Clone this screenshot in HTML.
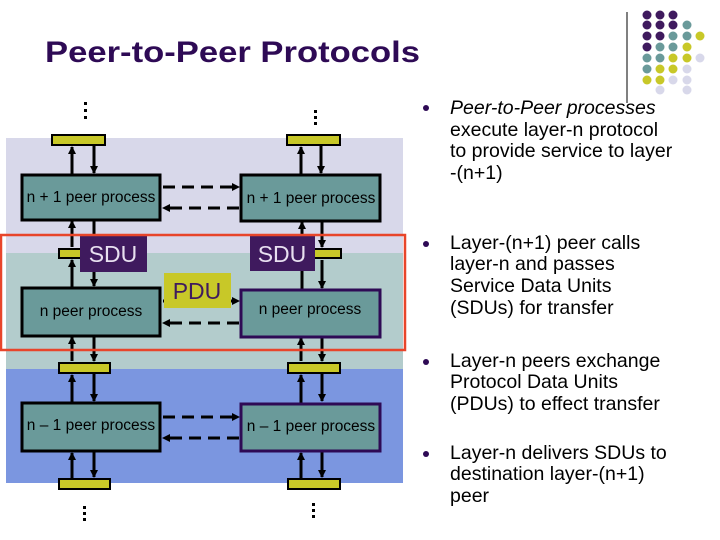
<!DOCTYPE html>
<html><head><meta charset="utf-8"><style>
html,body{margin:0;padding:0;background:#fff;}
svg{display:block;font-family:"Liberation Sans",Arial,sans-serif;}
</style></head><body>
<svg width="720" height="540" viewBox="0 0 720 540" xmlns="http://www.w3.org/2000/svg">
<defs>
<marker id="ah" markerWidth="8" markerHeight="8" refX="7" refY="4" orient="auto" markerUnits="userSpaceOnUse">
<path d="M0,0 L8,4 L0,8 Z" fill="#000"/></marker>
</defs>
<text x="45" y="62" font-size="30" font-weight="bold" fill="#2e0a55" textLength="375" lengthAdjust="spacingAndGlyphs">Peer-to-Peer Protocols</text>
<line x1="627" y1="12" x2="627" y2="103" stroke="#000" stroke-width="1"/>
<g>
<circle cx="647" cy="15" r="4.5" fill="#3f1a5e"/><circle cx="660" cy="15" r="4.5" fill="#3f1a5e"/><circle cx="673" cy="15" r="4.5" fill="#3f1a5e"/>
<circle cx="647" cy="25" r="4.5" fill="#3f1a5e"/><circle cx="660" cy="25" r="4.5" fill="#3f1a5e"/><circle cx="673" cy="25" r="4.5" fill="#3f1a5e"/><circle cx="687" cy="25" r="4.5" fill="#6a9a9a"/>
<circle cx="647" cy="36" r="4.5" fill="#3f1a5e"/><circle cx="660" cy="36" r="4.5" fill="#3f1a5e"/><circle cx="673" cy="36" r="4.5" fill="#6a9a9a"/><circle cx="687" cy="36" r="4.5" fill="#6a9a9a"/><circle cx="700" cy="36" r="4.5" fill="#c8c828"/>
<circle cx="647" cy="47" r="4.5" fill="#3f1a5e"/><circle cx="660" cy="47" r="4.5" fill="#6a9a9a"/><circle cx="673" cy="47" r="4.5" fill="#6a9a9a"/><circle cx="687" cy="47" r="4.5" fill="#c8c828"/>
<circle cx="647" cy="58" r="4.5" fill="#6a9a9a"/><circle cx="660" cy="58" r="4.5" fill="#6a9a9a"/><circle cx="673" cy="58" r="4.5" fill="#c8c828"/><circle cx="687" cy="58" r="4.5" fill="#c8c828"/><circle cx="700" cy="58" r="4.5" fill="#d8d8ea"/>
<circle cx="647" cy="69" r="4.5" fill="#6a9a9a"/><circle cx="660" cy="69" r="4.5" fill="#c8c828"/><circle cx="673" cy="69" r="4.5" fill="#c8c828"/><circle cx="687" cy="69" r="4.5" fill="#d8d8ea"/>
<circle cx="647" cy="80" r="4.5" fill="#c8c828"/><circle cx="660" cy="80" r="4.5" fill="#c8c828"/><circle cx="673" cy="80" r="4.5" fill="#d8d8ea"/><circle cx="687" cy="80" r="4.5" fill="#d8d8ea"/>
<circle cx="660" cy="90" r="4.5" fill="#d8d8ea"/><circle cx="687" cy="90" r="4.5" fill="#d8d8ea"/>
</g>
<rect x="6" y="138" width="397" height="115" fill="#d8d8ea"/>
<rect x="6" y="253" width="397" height="116" fill="#b3cccc"/>
<rect x="6" y="369" width="397" height="114" fill="#7b96e0"/>
<g fill="#000">
<rect x="84" y="102" width="3" height="3"/><rect x="84" y="109" width="3" height="3"/><rect x="84" y="116" width="3" height="3"/>
<rect x="314" y="110" width="3" height="3"/><rect x="314" y="116" width="3" height="3"/><rect x="314" y="122" width="3" height="3"/>
<rect x="83" y="506" width="3" height="3"/><rect x="83" y="512" width="3" height="3"/><rect x="83" y="518" width="3" height="3"/>
<rect x="312" y="503" width="3" height="3"/><rect x="312" y="509" width="3" height="3"/><rect x="312" y="515" width="3" height="3"/>
</g>
<g stroke="#000" stroke-width="3" marker-end="url(#ah)">
<line x1="72" y1="175" x2="72" y2="147"/><line x1="94" y1="145" x2="94" y2="173"/>
<line x1="301" y1="175" x2="301" y2="147"/><line x1="321" y1="145" x2="321" y2="173"/>
<line x1="72" y1="247" x2="72" y2="221"/><line x1="94" y1="221" x2="94" y2="247"/>
<line x1="72" y1="288" x2="72" y2="260"/><line x1="94" y1="260" x2="94" y2="286"/>
<line x1="302" y1="247" x2="302" y2="222"/><line x1="322" y1="222" x2="322" y2="247"/>
<line x1="302" y1="290" x2="302" y2="260"/><line x1="322" y1="260" x2="322" y2="288"/>
<line x1="72" y1="361" x2="72" y2="337"/><line x1="94" y1="337" x2="94" y2="361"/>
<line x1="301" y1="361" x2="301" y2="338"/><line x1="322" y1="338" x2="322" y2="361"/>
<line x1="72" y1="403" x2="72" y2="375"/><line x1="94" y1="373" x2="94" y2="401"/>
<line x1="301" y1="403" x2="301" y2="375"/><line x1="322" y1="373" x2="322" y2="401"/>
<line x1="72" y1="479" x2="72" y2="453"/><line x1="94" y1="451" x2="94" y2="477"/>
<line x1="301" y1="479" x2="301" y2="453"/><line x1="322" y1="452" x2="322" y2="477"/>
</g>
<g stroke="#000" stroke-width="3" stroke-dasharray="12,7" marker-end="url(#ah)">
<line x1="163" y1="187" x2="239" y2="187"/><line x1="239" y1="208" x2="163" y2="208"/>
<line x1="163" y1="301" x2="239" y2="301"/><line x1="239" y1="323" x2="163" y2="323"/>
<line x1="163" y1="417" x2="239" y2="417"/><line x1="239" y1="438" x2="163" y2="438"/>
</g>
<g fill="#c8c828" stroke="#000" stroke-width="2">
<rect x="52" y="135" width="53" height="10"/><rect x="287" y="135" width="53" height="10"/>
<rect x="59" y="249" width="24" height="9"/><rect x="313" y="249" width="28" height="9"/>
<rect x="59" y="363" width="51" height="10"/><rect x="288" y="363" width="52" height="10"/>
<rect x="59" y="479" width="51" height="10"/><rect x="288" y="479" width="52" height="10"/>
</g>
<g fill="#6a9a9a" stroke-width="3">
<rect x="22" y="175" width="138" height="45" stroke="#000"/>
<rect x="241" y="175" width="139" height="46" stroke="#000"/>
<rect x="22" y="288" width="138" height="48" stroke="#000"/>
<rect x="241" y="290" width="139" height="47" stroke="#2e0a55"/>
<rect x="22" y="403" width="138" height="48" stroke="#000"/>
<rect x="241" y="404" width="139" height="47" stroke="#2e0a55"/>
</g>
<g font-size="15.5" fill="#000" text-anchor="middle">
<text x="91" y="202">n + 1 peer process</text>
<text x="311" y="203">n + 1 peer process</text>
<text x="91" y="316">n peer process</text>
<text x="310" y="314">n peer process</text>
<text x="91" y="430">n – 1 peer process</text>
<text x="311" y="431">n – 1 peer process</text>
</g>
<rect x="80" y="236" width="67" height="36" fill="#3f1a5e"/>
<rect x="250" y="236" width="65" height="35" fill="#3f1a5e"/>
<text x="113" y="262" font-size="23" fill="#e8e0f0" text-anchor="middle">SDU</text>
<text x="282" y="262" font-size="23" fill="#e8e0f0" text-anchor="middle">SDU</text>
<rect x="164" y="273" width="67" height="35" fill="#c8c828"/>
<text x="197" y="299" font-size="23" fill="#3f1a5e" text-anchor="middle">PDU</text>
<rect x="1" y="235" width="404" height="115" fill="none" stroke="#e8452a" stroke-width="2.5"/>
<g fill="#2e0a55">
<circle cx="426" cy="108" r="3"/><circle cx="426" cy="244" r="3"/><circle cx="426" cy="362" r="3"/><circle cx="426" cy="454" r="3"/>
</g>
<g font-size="19.5" fill="#000">
<text x="450" y="114" font-style="italic">Peer-to-Peer processes</text>
<text x="450" y="136">execute layer-n protocol</text>
<text x="450" y="157">to provide service to layer</text>
<text x="450" y="179">-(n+1)</text>
<text x="450" y="249">Layer-(n+1) peer calls</text>
<text x="450" y="270">layer-n and passes</text>
<text x="450" y="292">Service Data Units</text>
<text x="450" y="314">(SDUs) for transfer</text>
<text x="450" y="367">Layer-n peers exchange</text>
<text x="450" y="388">Protocol Data Units</text>
<text x="450" y="410">(PDUs) to effect transfer</text>
<text x="450" y="459">Layer-n delivers SDUs to</text>
<text x="450" y="480">destination layer-(n+1)</text>
<text x="450" y="502">peer</text>
</g>
</svg>
</body></html>
